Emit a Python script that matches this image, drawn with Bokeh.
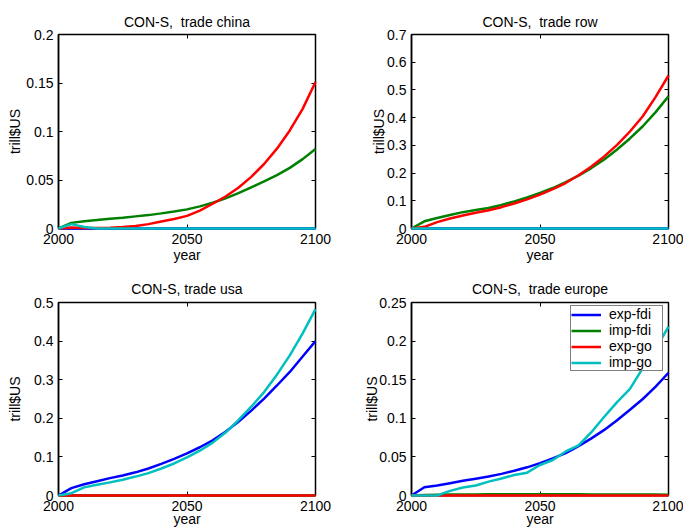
from bokeh.plotting import figure
from bokeh.layouts import gridplot
from bokeh.models import (Range1d, FixedTicker, LinearAxis, Legend, LegendItem,
                          CustomLabelingPolicy)
from bokeh.embed import file_html
from bokeh.resources import INLINE

FONT = "Liberation Sans"
FS = "14px"

years = [2000, 2005, 2010, 2015, 2020, 2025, 2030, 2035, 2040, 2045, 2050,
         2055, 2060, 2065, 2070, 2075, 2080, 2085, 2090, 2095, 2100]
series_names = ["exp-fdi", "imp-fdi", "exp-go", "imp-go"]
series_colors = ["#0000ff", "#008000", "#ff0000", "#00bfbf"]
x_ticks = [2000, 2050, 2100]

# trade china
china_exp_fdi = [0] * 21
china_imp_fdi = [0, .0058, .0075, .0088, .0100, .0112, .0125, .0138, .0156, .0175, .0197,
                 .0228, .0265, .0310, .0365, .0425, .0485, .0550, .0625, .0715, .0820]
china_exp_go = [0, .0010, .0005, .0004, .0008, .0015, .0026, .0045, .0072, .0098, .0130,
                .0185, .0255, .0330, .0420, .0532, .0665, .0823, .1011, .1233, .1510]
china_imp_go = [0, .0045, .0015, 0, 0, 0, 0, 0, 0, 0, 0,
                0, 0, 0, 0, 0, 0, 0, 0, 0, 0]
china_yticks = [0, 0.05, 0.1, 0.15, 0.2]

# trade row
row_exp_fdi = [0] * 21
row_imp_fdi = [0, .026, .038, .049, .059, .067, .074, .085, .098, .112, .128,
               .146, .167, .191, .218, .249, .285, .325, .369, .420, .477]
row_exp_go = [0, .006, .023, .036, .047, .057, .066, .077, .090, .105, .122,
              .142, .164, .192, .224, .260, .302, .350, .405, .475, .552]
row_imp_go = [0] * 21
row_yticks = [0, 0.1, 0.2, 0.3, 0.4, 0.5, 0.6, 0.7]

# trade usa
usa_exp_fdi = [0, .019, .029, .037, .045, .052, .060, .070, .082, .095, .109,
               .125, .143, .165, .191, .220, .251, .285, .320, .360, .400]
usa_imp_fdi = [0] * 21
usa_exp_go = [0] * 21
usa_imp_go = [0, .006, .021, .028, .034, .041, .049, .058, .070, .083, .099,
              .116, .137, .163, .195, .230, .268, .313, .363, .420, .483]
usa_yticks = [0, 0.1, 0.2, 0.3, 0.4, 0.5]

# trade europe
europe_exp_fdi = [0, .0107, .0130, .0160, .0190, .0218, .0245, .0280, .0320, .0365, .0420,
                  .0480, .0550, .0640, .0740, .0850, .0975, .1110, .1250, .1410, .1590]
europe_imp_fdi = [0, .0005, .0010, .0012, .0013, .0014, .0015, .0015, .0015, .0015, .0015,
                  .0015, .0015, .0015, .0014, .0014, .0013, .0013, .0012, .0012, .0011]
europe_exp_go = [0] * 21
europe_imp_go = [0, 0, 0, .0060, .0103, .0130, .0180, .0220, .0266, .0296, .0395,
                 .0460, .0570, .0650, .0820, .1020, .1210, .1380, .1650, .1900, .2187]
europe_yticks = [0, 0.05, 0.1, 0.15, 0.2, 0.25]


def make_panel(title, series, yticks, width, height, bl, br, bt, bb, ylab_standoff,
               title_standoff, xlab_standoff, legend_loc=None):
    p = figure(width=width, height=height, output_backend="svg", toolbar_location=None,
               x_range=Range1d(x_ticks[0], x_ticks[-1]), y_range=Range1d(yticks[0], yticks[-1]),
               min_border_left=bl, min_border_right=br, min_border_top=bt, min_border_bottom=bb,
               x_axis_label="year", y_axis_label="trill$US")
    p.background_fill_color = "white"
    p.border_fill_color = "white"
    p.outline_line_color = "black"
    p.outline_line_width = 1.5
    p.grid.visible = False

    p.title.text = title
    p.title.align = "center"
    p.title.text_font = FONT
    p.title.text_font_size = FS
    p.title.text_font_style = "normal"
    p.title.text_color = "black"
    p.title.standoff = title_standoff

    for ax, tks in ((p.xaxis[0], x_ticks), (p.yaxis[0], yticks)):
        ax.ticker = FixedTicker(ticks=tks)
        ax.major_tick_in = 4
        ax.major_tick_out = 0
        ax.minor_tick_line_color = None
        ax.major_tick_line_color = "black"
        ax.axis_line_color = "black"
        ax.axis_line_width = 1.5
        ax.major_label_text_font = FONT
        ax.major_label_text_font_size = FS
        ax.major_label_text_color = "black"
        ax.major_label_standoff = 5
        ax.axis_label_text_font = FONT
        ax.axis_label_text_font_size = FS
        ax.axis_label_text_font_style = "normal"
        ax.axis_label_text_color = "black"
    p.xaxis[0].axis_label_standoff = xlab_standoff
    p.yaxis[0].axis_label_standoff = ylab_standoff
    p.yaxis[0].major_label_overrides = {v: f"{v:g}" for v in yticks}

    for place, tks in (("above", x_ticks), ("right", yticks)):
        ax = LinearAxis(ticker=FixedTicker(ticks=tks), major_tick_in=4, major_tick_out=0,
                        minor_tick_line_color=None, axis_line_color=None,
                        major_label_text_font_size="0px", major_label_standoff=0,
                        major_label_policy=CustomLabelingPolicy(code="return new Set()"))
        p.add_layout(ax, place)

    items = []
    for name, color, ys in zip(series_names, series_colors, series):
        r = p.line(years, ys, line_color=color, line_width=2.5, level="overlay")
        items.append(LegendItem(label=name, renderers=[r]))

    if legend_loc is not None:
        lg = Legend(items=items, location=legend_loc)
        lg.label_text_font = FONT
        lg.label_text_font_size = FS
        lg.label_text_color = "black"
        lg.border_line_color = "black"
        lg.border_line_width = 1.5
        lg.background_fill_color = "white"
        lg.background_fill_alpha = 1.0
        lg.padding = 0
        lg.spacing = 0
        lg.margin = 0
        lg.glyph_width = 30
        lg.glyph_height = 15
        lg.label_height = 15
        lg.label_width = 53
        lg.label_standoff = 8
        p.add_layout(lg)
    return p


p1 = make_panel("CON-S,\u00a0 trade china",
                [china_exp_fdi, china_imp_fdi, china_exp_go, china_imp_go], china_yticks,
                341, 265, 58, 26, 34, 36, 0, 9, 0)
p2 = make_panel("CON-S,\u00a0 trade row",
                [row_exp_fdi, row_imp_fdi, row_exp_go, row_imp_go], row_yticks,
                342, 265, 70, 15, 34, 36, -3, 9, 0)
p3 = make_panel("CON-S, trade usa",
                [usa_exp_fdi, usa_imp_fdi, usa_exp_go, usa_imp_go], usa_yticks,
                341, 264, 58, 26, 37, 34, 8, 11, -3)
p4 = make_panel("CON-S,\u00a0 trade europe",
                [europe_exp_fdi, europe_imp_fdi, europe_exp_go, europe_imp_go], europe_yticks,
                342, 264, 70, 15, 37, 34, -4, 11, -3, legend_loc=(159, 124))

grid = gridplot([[p1, p2], [p3, p4]], toolbar_location=None)
open("out.html", "w").write(file_html(grid, INLINE))
